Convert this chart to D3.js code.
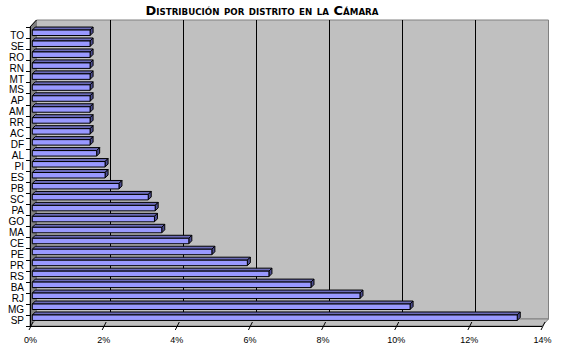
<!DOCTYPE html>
<html>
<head>
<meta charset="utf-8">
<script src="https://cdn.jsdelivr.net/npm/d3@7"></script>
<style>
  body { margin: 0; background: #fff; }
  svg { display: block; }
</style>
</head>
<body>
<svg id="chart" width="569" height="351"></svg>
<script>
// data
var categories = ["TO","SE","RO","RN","MT","MS","AP","AM","RR","AC","DF","AL","PI","ES","PB",
                  "SC","PA","GO","MA","CE","PE","PR","RS","BA","RJ","MG","SP"];
var values = [1.58,1.58,1.58,1.58,1.58,1.58,1.58,1.58,1.58,1.58,1.58,1.76,1.99,1.99,2.37,
              3.17,3.36,3.34,3.54,4.28,4.91,5.88,6.47,7.62,8.96,10.33,13.26];
var xTicks = [0,2,4,6,8,10,12,14];
var title = "Distribución por distrito en la Cámara";

var svg = d3.select('#chart');

var plotTop = 27, plotBottom = 326;
var depth = {dx: 6.5, dy: -7};     // front plane -> back wall
var barOff = {dx: 2.3, dy: -2.5};  // front plane -> bar front face
var barD = {dx: 3, dy: -3};        // bar thickness

var xScale = d3.scaleLinear().domain([0, 14]).range([30, 542]);
var yScale = d3.scaleBand().domain(categories)
  .range([29.8, 325.7]).paddingInner(0.5).paddingOuter(0.25);

var x0 = xScale(0), x1 = xScale(14);

function poly(pts) {
  return 'M' + pts.map(function (p) { return p[0] + ',' + p[1]; }).join('L') + 'Z';
}

// title
svg.append('text')
  .attr('x', 262).attr('y', 15)
  .attr('text-anchor', 'middle')
  .attr('textLength', 233)
  .attr('lengthAdjust', 'spacingAndGlyphs')
  .style('font-family', '"DejaVu Sans", Verdana, sans-serif')
  .style('font-weight', 'bold')
  .style('font-variant', 'small-caps')
  .style('font-size', '12px')
  .text(title);

// walls
var walls = svg.append('g').attr('class', 'walls');

// back wall
walls.append('path')
  .attr('d', poly([[x0 + depth.dx, plotTop + depth.dy], [x1 + depth.dx, plotTop + depth.dy],
                   [x1 + depth.dx, plotBottom + depth.dy], [x0 + depth.dx, plotBottom + depth.dy]]))
  .attr('fill', '#c0c0c0')
  .attr('stroke', '#808080')
  .attr('stroke-width', 1);

// side wall (left)
walls.append('path')
  .attr('d', poly([[x0, plotTop], [x0 + depth.dx, plotTop + depth.dy],
                   [x0 + depth.dx, plotBottom + depth.dy], [x0, plotBottom]]))
  .attr('fill', '#808080')
  .attr('stroke', '#808080')
  .attr('stroke-width', 1);

// floor
walls.append('path')
  .attr('d', poly([[x0, plotBottom], [x0 + depth.dx, plotBottom + depth.dy],
                   [x1 + depth.dx, plotBottom + depth.dy], [x1, plotBottom]]))
  .attr('fill', '#c0c0c0')
  .attr('stroke', '#808080')
  .attr('stroke-width', 1);

// gridlines on back wall
walls.selectAll('.vgrid')
  .data(xTicks.slice(1, -1))
  .enter().append('line')
  .attr('class', 'vgrid')
  .attr('x1', function (d) { return Math.round(xScale(d) + depth.dx) + 0.5; })
  .attr('x2', function (d) { return Math.round(xScale(d) + depth.dx) + 0.5; })
  .attr('y1', plotTop + depth.dy)
  .attr('y2', plotBottom + depth.dy)
  .attr('stroke', '#000')
  .attr('stroke-width', 1);

// slanted edge at the top of the side wall
walls.append('line')
  .attr('x1', x0).attr('y1', plotTop)
  .attr('x2', x0 + depth.dx).attr('y2', plotTop + depth.dy)
  .attr('stroke', '#000');

// bars
var bars = svg.append('g').attr('class', 'bars');
categories.forEach(function (c, i) {
  var xs = xScale(0) + barOff.dx,
      xe = xScale(values[i]) + barOff.dx,
      yt = yScale(c) + barOff.dy,
      yb = yt + yScale.bandwidth();

  var g = bars.append('g')
    .attr('stroke', '#000')
    .attr('stroke-width', 1)
    .attr('stroke-linejoin', 'round');

  // top face
  g.append('path')
    .attr('d', poly([[xs, yt], [xs + barD.dx, yt + barD.dy], [xe + barD.dx, yt + barD.dy], [xe, yt]]))
    .attr('fill', '#6b6bb8');
  // end cap
  g.append('path')
    .attr('d', poly([[xe, yt], [xe + barD.dx, yt + barD.dy], [xe + barD.dx, yb + barD.dy], [xe, yb]]))
    .attr('fill', '#4d4d8f');
  // front face
  g.append('path')
    .attr('d', poly([[xs, yt], [xe, yt], [xe, yb], [xs, yb]]))
    .attr('fill', '#9999ff');
});

// category axis
var yAxis = svg.append('g')
  .attr('transform', 'translate(' + x0 + ',0)')
  .call(d3.axisLeft(yScale).tickSize(0).tickPadding(6).tickSizeOuter(0));
yAxis.select('.domain').remove();
yAxis.selectAll('text')
  .attr('dy', '0.34em')
  .style('font-family', '"Liberation Sans", Arial, sans-serif')
  .style('font-size', '10px')
  .attr('fill', '#000');

// boundary ticks on the category axis
var step = (plotBottom - plotTop) / categories.length;
svg.append('g').selectAll('line')
  .data(d3.range(categories.length + 1))
  .enter().append('line')
  .attr('x1', x0 - 4).attr('x2', x0)
  .attr('y1', function (k) { return Math.round(plotTop + k * step) + 0.5; })
  .attr('y2', function (k) { return Math.round(plotTop + k * step) + 0.5; })
  .attr('stroke', '#000');

svg.append('line')
  .attr('x1', x0 + 0.5).attr('x2', x0 + 0.5)
  .attr('y1', plotTop).attr('y2', plotBottom)
  .attr('stroke', '#000');

// value axis
var xAxis = svg.append('g')
  .attr('transform', 'translate(0,' + plotBottom + ')')
  .call(d3.axisBottom(xScale).tickValues(xTicks).tickSize(0).tickPadding(11)
    .tickFormat(function (d) { return d + '%'; }));
xAxis.select('.domain')
  .attr('d', 'M' + x0 + ',0.5H' + x1)
  .attr('stroke', '#000');
xAxis.selectAll('.tick line')
  .attr('x1', 2.5).attr('y1', -4)
  .attr('x2', -1.5).attr('y2', 4)
  .attr('stroke', '#000');
xAxis.selectAll('text')
  .style('font-family', '"Liberation Sans", Arial, sans-serif')
  .style('font-size', '9px')
  .attr('fill', '#000');
</script>
</body>
</html>
